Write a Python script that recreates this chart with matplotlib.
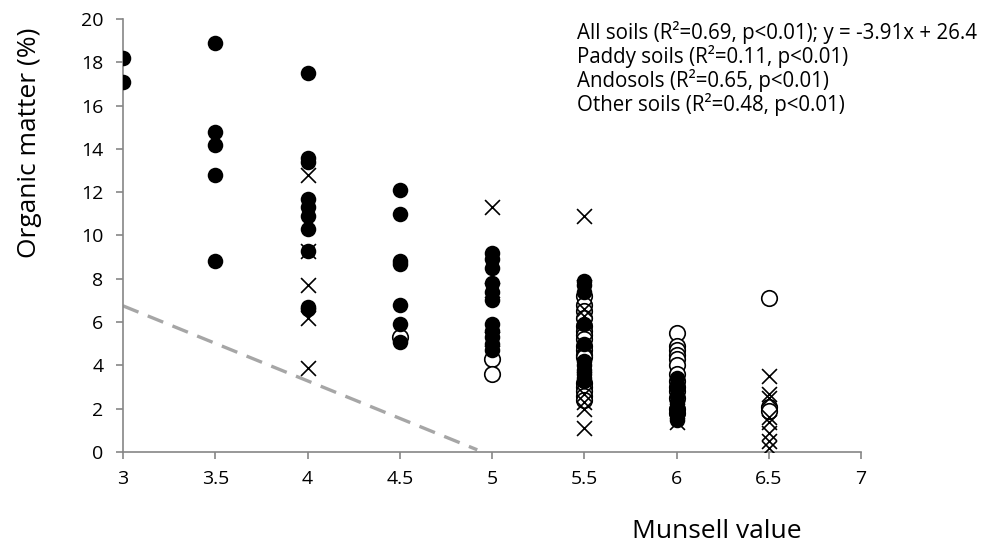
import matplotlib
matplotlib.use("Agg")
import matplotlib.pyplot as plt

# Munsell value vs organic matter, three soil groups
# filled circles
andosols_x = [3, 3,
              3.5, 3.5, 3.5, 3.5, 3.5,
              4, 4, 4, 4, 4, 4, 4, 4, 4, 4,
              4.5, 4.5, 4.5, 4.5, 4.5, 4.5, 4.5,
              5, 5, 5, 5, 5, 5, 5, 5, 5, 5, 5,
              5.5, 5.5, 5.5, 5.5, 5.5, 5.5, 5.5, 5.5, 5.5, 5.5, 5.5,
              6, 6, 6, 6, 6, 6, 6, 6, 6]
andosols_y = [18.2, 17.1,
              18.9, 14.8, 14.2, 12.8, 8.8,
              17.5, 13.6, 13.4, 11.7, 11.3, 10.9, 10.3, 9.3, 6.7, 6.6,
              12.1, 11.0, 8.8, 8.7, 6.8, 5.9, 5.1,
              9.2, 8.9, 8.5, 7.8, 7.4, 7.0, 5.9, 5.6, 5.3, 5.0, 4.7,
              7.9, 7.7, 7.4, 5.9, 5.0, 4.2, 4.0, 3.8, 3.6, 3.4, 3.3,
              3.4, 3.1, 2.9, 2.6, 2.3, 2.1, 1.9, 1.7, 1.5]

# crosses
paddy_x = [4, 4, 4, 4, 4,
           5, 5, 5,
           5.5, 5.5, 5.5, 5.5, 5.5, 5.5, 5.5, 5.5, 5.5, 5.5,
           6, 6, 6,
           6.5, 6.5, 6.5, 6.5, 6.5, 6.5, 6.5, 6.5]
paddy_y = [12.8, 9.3, 7.7, 6.2, 3.9,
           11.3, 7.5, 5.2,
           10.9, 7.6, 6.6, 6.3, 5.0, 4.0, 2.7, 2.3, 2.0, 1.1,
           2.7, 1.9, 1.4,
           3.5, 2.7, 2.5, 1.6, 1.4, 0.9, 0.5, 0.2]

# open circles
other_x = [4.5,
           5, 5,
           5.5, 5.5, 5.5, 5.5, 5.5, 5.5, 5.5, 5.5, 5.5, 5.5, 5.5, 5.5, 5.5, 5.5, 5.5, 5.5, 5.5,
           6, 6, 6, 6, 6, 6, 6, 6, 6, 6, 6, 6, 6,
           6.5, 6.5, 6.5]
other_y = [5.3,
           4.3, 3.6,
           7.2, 6.8, 6.5, 6.2, 5.8, 5.6, 5.4, 5.2, 4.9, 4.7, 4.5, 4.4, 3.2, 3.0, 2.8, 2.6, 2.4,
           5.5, 4.9, 4.7, 4.5, 4.3, 4.0, 3.6, 3.3, 3.0, 2.8, 2.5, 2.0, 1.8,
           7.1, 2.1, 1.9]

# dashed reference line end points
line_x = [3, 4.92]
line_y = [6.75, 0.1]

stats_lines = ["All soils (R\u00b2=0.69, p<0.01); y = -3.91x + 26.4",
               "Paddy soils (R\u00b2=0.11, p<0.01)",
               "Andosols (R\u00b2=0.65, p<0.01)",
               "Other soils (R\u00b2=0.48, p<0.01)"]

x_ticks = [3, 3.5, 4, 4.5, 5, 5.5, 6, 6.5, 7]
x_tick_labels = ["3", "3.5", "4", "4.5", "5", "5.5", "6", "6.5", "7"]
y_ticks = [0, 2, 4, 6, 8, 10, 12, 14, 16, 18, 20]

plt.rcParams['font.family'] = ['Open Sans', 'DejaVu Sans']
axis_grey = '#868686'

fig = plt.figure(figsize=(9.89, 5.49), dpi=100)
ax = fig.add_axes([0.1244, 0.1767, 0.7462, 0.7887])

ax.plot(line_x, line_y, color='#A6A6A6', lw=2.4, linestyle=(0, (5, 3)), zorder=1)

ax.scatter(other_x, other_y, s=125, facecolor='white', edgecolor='black', linewidths=1.2, zorder=2)
ax.scatter(paddy_x, paddy_y, s=115, marker='x', color='black', linewidths=1.2, zorder=3)
ax.scatter(andosols_x, andosols_y, s=125, color='black', linewidths=0, zorder=4)

ax.set_xlim(3, 7)
ax.set_ylim(0, 20)
ax.set_xticks(x_ticks)
ax.set_xticklabels(x_tick_labels)
ax.set_yticks(y_ticks)

for side in ['top', 'right']:
    ax.spines[side].set_visible(False)
for side in ['left', 'bottom']:
    ax.spines[side].set_color(axis_grey)
    ax.spines[side].set_linewidth(1.2)
ax.tick_params(axis='both', colors=axis_grey, labelcolor='black', labelsize=14,
               length=5, width=1.2, direction='out')
ax.tick_params(axis='x', pad=8)
ax.tick_params(axis='y', pad=9)

for sp in ax.spines.values():
    sp.set_clip_on(False)

# axis titles placed like the original
fig.text(30 / 989, 1 - 143 / 549, "Organic matter (%)", rotation=90,
         ha='center', va='center', fontsize=19)
fig.text(717 / 989, 1 - 531 / 549, "Munsell value", ha='center', va='center', fontsize=19)

# statistics text block
for i, line in enumerate(stats_lines):
    fig.text(577 / 989, 1 - (33 + i * 24) / 549, line, ha='left', va='center', fontsize=14.8)

fig.savefig("out.png", dpi=100)
